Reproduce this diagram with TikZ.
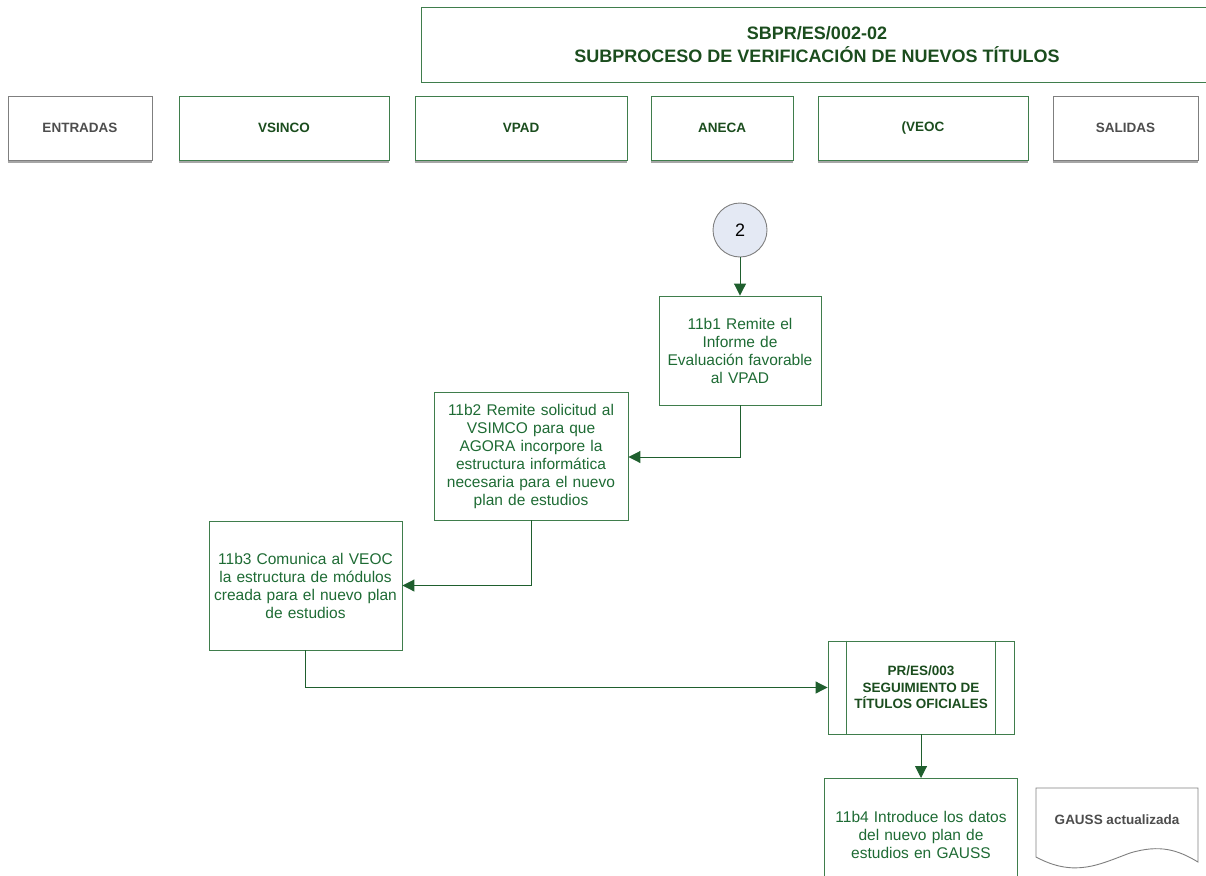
\documentclass[tikz,border=0pt]{standalone}
\usepackage{fontspec}
\setmainfont{Liberation Sans}
\usetikzlibrary{arrows.meta}
\definecolor{verdeosc}{HTML}{1B4D1E}
\definecolor{verdecaja}{HTML}{3F7D4C}
\definecolor{verdeflecha}{HTML}{1F5F2E}
\definecolor{verdetexto}{HTML}{1E6B34}
\definecolor{grisborde}{HTML}{7F7F7F}
\definecolor{gristexto}{HTML}{4D4D4D}
\definecolor{azulcirc}{HTML}{E4E9F4}
\begin{document}
\begin{tikzpicture}[x=1pt,y=-1pt,
    cabecera/.style = {draw=verdecaja, line width=0.9pt, font=\fontsize{13.5}{16}\selectfont\bfseries, text=verdeosc, minimum height=64pt},
    cabgris/.style = {cabecera, draw=grisborde, text=gristexto},
    paso/.style = {draw=verdecaja, line width=0.9pt, text=verdetexto, align=center, font=\fontsize{15.5}{18}\selectfont, inner sep=2pt},
    flecha/.style = {draw=verdeflecha, line width=1pt, -{Triangle[length=12pt,width=12pt]}}]
    \useasboundingbox (0,0) rectangle (1206,875);

    % Titulo
    \node[draw=verdecaja, line width=0.9pt, minimum width=792pt, minimum height=75pt, align=center, text=verdeosc,
          font=\fontsize{18}{23}\selectfont\bfseries] (titulo) at (817,44.5)
          {SBPR/ES/002-02\\SUBPROCESO DE VERIFICACIÓN DE NUEVOS TÍTULOS};

    % Columnas
    \node[cabgris, minimum width=144pt] (entradas) at (80,128) {ENTRADAS};
    \node[cabecera, minimum width=210pt] (vsinco) at (284,128) {VSINCO};
    \node[cabecera, minimum width=212pt] (vpad) at (521,128) {VPAD};
    \node[cabecera, minimum width=142pt] (aneca) at (722,128) {ANECA};
    \node[cabecera, minimum width=210pt] (veoc) at (923,128) {(VEOC};
    \node[cabgris, minimum width=145pt] (salidas) at (1125.5,128) {SALIDAS};
    \foreach \n in {entradas,vsinco,vpad,aneca,veoc,salidas}
        \draw[gray!70, line width=1.5pt] ([yshift=-1.5pt]\n.south west) -- ([yshift=-1.5pt]\n.south east);

    % Conector
    \node[draw=grisborde, line width=0.9pt, fill=azulcirc, circle, minimum size=54pt, font=\fontsize{18}{20}\selectfont] (c2) at (740,230) {2};

    % Pasos
    \node[paso, minimum width=162pt, minimum height=109pt, text width=158pt] (p1) at (740,350.5)
        {11b1 Remite el\\Informe de\\Evaluación favorable\\al VPAD};
    \node[paso, minimum width=194pt, minimum height=128pt, text width=190pt] (p2) at (531,456)
        {11b2 Remite solicitud al\\VSIMCO para que\\AGORA incorpore la\\estructura informática\\necesaria para el nuevo\\plan de estudios};
    \node[paso, minimum width=193pt, minimum height=129pt, text width=189pt] (p3) at (305.5,585.5)
        {11b3 Comunica al VEOC\\la estructura de módulos\\creada para el nuevo plan\\de estudios};
    \node[draw=verdecaja, line width=0.9pt, minimum width=186pt, minimum height=93pt, align=center, text=verdeosc,
          font=\fontsize{13.5}{16.5}\selectfont\bfseries] (pr) at (921,687.5)
        {PR/ES/003\\SEGUIMIENTO DE\\TÍTULOS OFICIALES};
    \draw[verdecaja, line width=0.9pt] ([xshift=19pt]pr.north west) -- ([xshift=19pt]pr.south west);
    \draw[verdecaja, line width=0.9pt] ([xshift=-19pt]pr.north east) -- ([xshift=-19pt]pr.south east);
    \node[paso, minimum width=193pt, minimum height=110pt, text width=189pt, anchor=north] (p4) at (921,778)
        {\\[-4pt]11b4 Introduce los datos\\del nuevo plan de\\estudios en GAUSS\\[12pt]};

    % Salida
    \node[text=gristexto, font=\fontsize{13.5}{16}\selectfont\bfseries] (gauss) at (1117,820) {GAUSS actualizada};
    \coordinate (d1) at (1036,788);
    \coordinate (d2) at (1198,788);
    \draw[grisborde, line width=0.9pt] (d1) -- (d2) -- (1198,862)
        .. controls (1178,850) and (1160,844) .. (1130,853)
        .. controls (1100,864) and (1075,878) .. (1036,857) -- cycle;

    % Conexiones
    \draw[flecha] (c2) -- (p1);
    \draw[flecha] (p1.south) |- (p2.east |- 0,457);
    \draw[flecha] (p2.south) |- (p3.east);
    \draw[flecha] (p3.south) |- (pr.west);
    \draw[flecha] (pr.south) -- (p4.north);
\end{tikzpicture}
\end{document}
